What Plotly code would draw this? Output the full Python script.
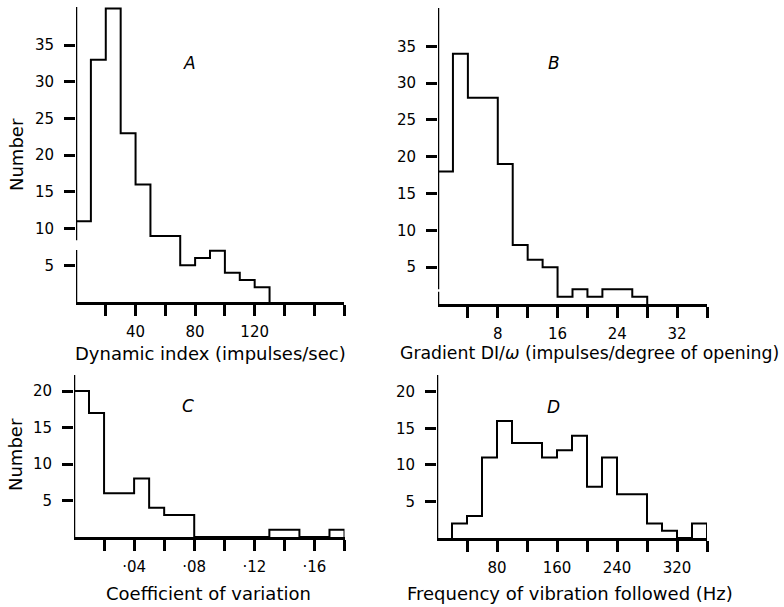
import plotly.graph_objects as go

# ---------------- data ----------------
A_edges = [0, 10, 20, 30, 40, 50, 60, 70, 80, 90, 100, 110, 120, 130]
A_counts = [11, 33, 40, 23, 16, 9, 9, 5, 6, 7, 4, 3, 2]

B_edges = [0, 2, 4, 6, 8, 10, 12, 14, 16, 18, 20, 22, 24, 26, 28]
B_counts = [18, 34, 28, 28, 19, 8, 6, 5, 1, 2, 1, 2, 2, 1]

C_edges = [0.00, 0.01, 0.02, 0.03, 0.04, 0.05, 0.06, 0.07, 0.08, 0.09,
           0.10, 0.11, 0.12, 0.13, 0.14, 0.15, 0.16, 0.17, 0.18]
C_counts = [20, 17, 6, 6, 8, 4, 3, 3, 0, 0, 0, 0, 0, 1, 1, 0, 0, 1]

D_edges = [20, 40, 60, 80, 100, 120, 140, 160, 180, 200, 220, 240, 260,
           280, 300, 320, 340, 360]
D_counts = [2, 3, 11, 16, 13, 13, 11, 12, 14, 7, 11, 6, 6, 2, 1, 0, 2]

A_xticks = [20, 40, 60, 80, 100, 120, 140, 160, 180]
A_xlabels = ["", "40", "", "80", "", "120", "", "", ""]
B_xticks = [4, 8, 12, 16, 20, 24, 28, 32, 36]
B_xlabels = ["", "8", "", "16", "", "24", "", "32", ""]
C_xticks = [0.02, 0.04, 0.06, 0.08, 0.10, 0.12, 0.14, 0.16, 0.18]
C_xlabels = ["", "·04", "", "·08", "", "·12", "", "·16", ""]
D_xticks = [40, 80, 120, 160, 200, 240, 280, 320, 360]
D_xlabels = ["", "80", "", "160", "", "240", "", "320", ""]

AB_yticks = [5, 10, 15, 20, 25, 30, 35]
CD_yticks = [5, 10, 15, 20]

x_titles = ["Dynamic index (impulses/sec)",
            "Gradient DI/<i>ω</i> (impulses/degree of opening)",
            "Coefficient of variation",
            "Frequency of vibration followed (Hz)"]
panel_letters = ["A", "B", "C", "D"]

W, H = 784, 607
FONT = "DejaVu Sans"
TICKSIZE = 15


def px_x(p):
    return p / W


def px_y(p):
    return 1 - p / H


def step_path(edges, counts, xmin):
    xs = list(edges)
    ys = list(counts) + [0]
    if edges[0] > xmin:
        xs = [edges[0]] + xs
        ys = [0] + ys
    return xs, ys


panels = [
    dict(e=A_edges, c=A_counts, xr=[0, 180], yr=[0, 40.2], xd=(76, 344), yd=(7, 302),
         xt=A_xticks, xl=A_xlabels, yt=AB_yticks, gap=(7.1, 8.4)),
    dict(e=B_edges, c=B_counts, xr=[0, 36], yr=[0, 40.2], xd=(438, 707), yd=(8, 304),
         xt=B_xticks, xl=B_xlabels, yt=AB_yticks, gap=(1.65, 2.0)),
    dict(e=C_edges, c=C_counts, xr=[0, 0.18], yr=[0, 22.2], xd=(74, 344.5), yd=(375, 537),
         xt=C_xticks, xl=C_xlabels, yt=CD_yticks, gap=None),
    dict(e=D_edges, c=D_counts, xr=[0, 360], yr=[0, 22.3], xd=(437, 707), yd=(375, 538),
         xt=D_xticks, xl=D_xlabels, yt=CD_yticks, gap=None),
]

fig = go.Figure()
shapes = []
layout = {}
for i, p in enumerate(panels):
    n = "" if i == 0 else str(i + 1)
    xs, ys = step_path(p["e"], p["c"], p["xr"][0])
    fig.add_trace(go.Scatter(x=xs, y=ys, mode="lines", line_shape="hv",
                             line=dict(color="black", width=2),
                             xaxis="x" + n, yaxis="y" + n, showlegend=False,
                             hoverinfo="skip"))
    layout["xaxis" + n] = dict(
        domain=[px_x(p["xd"][0]), px_x(p["xd"][1])], range=p["xr"],
        anchor="y" + n, showgrid=False, zeroline=False,
        showline=True, linecolor="black", linewidth=2.5,
        ticks="outside", ticklen=11, tickwidth=2.5, tickcolor="black",
        tickvals=p["xt"], ticktext=p["xl"], ticklabelstandoff=3,
        tickfont=dict(family=FONT, size=TICKSIZE, color="black"), fixedrange=True)
    layout["yaxis" + n] = dict(
        domain=[px_y(p["yd"][1]), px_y(p["yd"][0])], range=p["yr"],
        anchor="x" + n, showgrid=False, zeroline=False, showline=False,
        ticks="outside", ticklen=11, tickwidth=2.5, tickcolor="black",
        tickvals=p["yt"], ticklabelstandoff=7,
        tickfont=dict(family=FONT, size=TICKSIZE, color="black"),
        fixedrange=True)
    segs = [(p["yr"][0], p["yr"][1])]
    if p["gap"]:
        segs = [(p["yr"][0], p["gap"][0]), (p["gap"][1], p["yr"][1])]
    for (a, b) in segs:
        shapes.append(dict(type="line", xref="x" + n, yref="y" + n,
                           x0=p["xr"][0], x1=p["xr"][0], y0=a, y1=b,
                           line=dict(color="black", width=2.5)))

annotations = []
letter_pos = [(189, 63), (554, 63), (188, 406), (553, 407)]
for L, (x, y) in zip(panel_letters, letter_pos):
    annotations.append(dict(text="<i>%s</i>" % L, x=px_x(x), y=px_y(y), xref="paper",
                            yref="paper", showarrow=False, xanchor="center",
                            yanchor="middle",
                            font=dict(family=FONT, size=17, color="black")))
title_pos = [(210, 353), (589, 353), (208, 593), (570, 593)]
title_sizes = [18, 17.3, 18, 18]
for t, (x, y), s in zip(x_titles, title_pos, title_sizes):
    annotations.append(dict(text=t, x=px_x(x), y=px_y(y), xref="paper", yref="paper",
                            showarrow=False, xanchor="center", yanchor="middle",
                            font=dict(family=FONT, size=s, color="black")))
for y in (155, 455):
    annotations.append(dict(text="Number", x=px_x(16), y=px_y(y), xref="paper",
                            yref="paper", showarrow=False, textangle=-90,
                            xanchor="center", yanchor="middle",
                            font=dict(family=FONT, size=18, color="black")))

fig.update_layout(width=W, height=H, margin=dict(l=0, r=0, t=0, b=0),
                  paper_bgcolor="white", plot_bgcolor="white",
                  shapes=shapes, annotations=annotations, **layout)
fig.write_html("out.html")
